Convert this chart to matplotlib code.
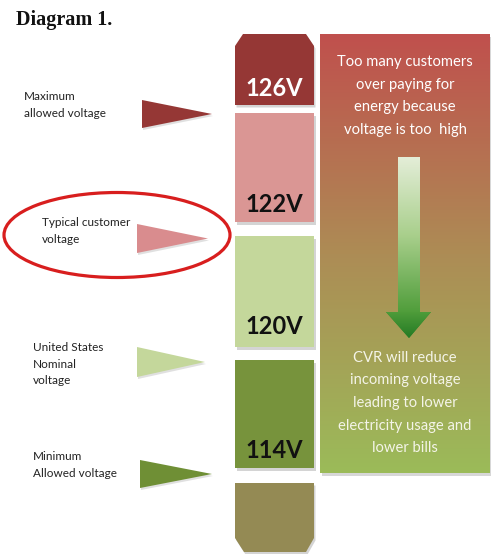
import numpy as np
import matplotlib
matplotlib.use("Agg")
import matplotlib.pyplot as plt
from matplotlib.patches import Polygon, Rectangle, Ellipse
from matplotlib.colors import LinearSegmentedColormap

# ---- data ----
voltages = [126, 122, 120, 114]
block_labels = ["126V", "122V", "120V", "114V"]
block_colors = ["#953735", "#da9694", "#c4d79b", "#77933c"]
block_text_colors = ["white", "#111111", "#111111", "#111111"]
side_labels = ["Maximum\nallowed voltage", "Typical customer\nvoltage",
               "United States\nNominal\nvoltage", "Minimum\nAllowed voltage"]
pointer_colors = ["#953735", "#d98c8e", "#c4d79b", "#6f8f35"]
bottom_block_color = "#948a54"
top_message = "Too many customers\nover paying for\nenergy because\nvoltage is too  high"
bottom_message = "CVR will reduce\nincoming voltage\nleading to lower\nelectricity usage and\nlower bills"
title = "Diagram 1."

W, H = 494, 554
fig = plt.figure(figsize=(W / 100, H / 100), dpi=100)
ax = fig.add_axes([0, 0, 1, 1])
ax.set_xlim(0, W)
ax.set_ylim(H, 0)
ax.axis("off")

FONT = "Lato"

# ---- block column ----
bx0, bx1 = 235, 314
blocks_y = [(34, 105), (113, 222), (236, 347), (360, 468)]
text_y = [88, 204, 327, 450]

def shadow(poly_pts, z=1):
    pts = np.array(poly_pts) + np.array([1.5, 2.5])
    ax.add_patch(Polygon(pts, closed=True, facecolor="#b8b8b8", edgecolor="none",
                         alpha=0.6, zorder=z))

for i, (y0, y1) in enumerate(blocks_y):
    if i == 0:
        pts = [(bx0, y1), (bx0, 46), (243, y0), (306, y0), (bx1, 46), (bx1, y1)]
    else:
        pts = [(bx0, y0), (bx1, y0), (bx1, y1), (bx0, y1)]
    shadow(pts)
    ax.add_patch(Polygon(pts, closed=True, facecolor=block_colors[i],
                         edgecolor="none", zorder=2))
    ax.text((bx0 + bx1) / 2, text_y[i], block_labels[i], ha="center", va="center",
            fontsize=17, fontweight="bold", color=block_text_colors[i],
            family=FONT, zorder=3)

# bottom block
pts = [(bx0, 483), (bx1, 483), (bx1, 538), (306, 552), (244, 552), (bx0, 538)]
shadow(pts)
ax.add_patch(Polygon(pts, closed=True, facecolor=bottom_block_color,
                     edgecolor="none", zorder=2))

# ---- right gradient panel ----
px0, px1, py0, py1 = 320, 489, 34, 473
ax.add_patch(Rectangle((px0 + 1.5, py0 + 2.5), px1 - px0, py1 - py0,
                       facecolor="#bdbdbd", edgecolor="none", alpha=0.6, zorder=1))
panel_cmap = LinearSegmentedColormap.from_list(
    "panel", [(0.0, "#c0504d"), (0.5, "#ad8c55"), (1.0, "#9bbb59")])
grad = np.linspace(0, 1, 256).reshape(-1, 1)
ax.imshow(grad, cmap=panel_cmap, extent=(px0, px1, py1, py0), aspect="auto",
          zorder=2, interpolation="bilinear")

# arrow shaft gradient
shaft_cmap = LinearSegmentedColormap.from_list(
    "shaft", [(0.0, "#e4eed8"), (0.5, "#a9cf8c"), (1.0, "#4f9d3a")])
ax.imshow(grad, cmap=shaft_cmap, extent=(398, 420, 313, 157), aspect="auto",
          zorder=3, interpolation="bilinear")
head_cmap = LinearSegmentedColormap.from_list("head", ["#4e9c3a", "#247a24"])
head = Polygon([(386, 312), (431, 312), (409, 338)], closed=True,
               facecolor="#2f8a2c", edgecolor="none", zorder=3)
ax.add_patch(head)
im = ax.imshow(grad, cmap=head_cmap, extent=(386, 431, 338, 312), aspect="auto",
               zorder=3, interpolation="bilinear")
im.set_clip_path(head)

ax.text(405, 96, top_message, ha="center", va="center", fontsize=10.6,
        color="white", family=FONT, linespacing=1.78, zorder=4)
ax.text(405, 403, bottom_message, ha="center", va="center", fontsize=10.6,
        color="#f4f4e8", family=FONT, linespacing=1.78, zorder=4)

# ---- pointers and side labels ----
pointers = [(142, 212, 100, 128), (137, 208, 224, 253),
            (137, 205, 347, 377), (140, 212, 460, 488)]
label_pos = [(24, 105), (42, 231), (33, 364), (33, 465)]
for i, (x0, x1, y0, y1) in enumerate(pointers):
    ax.add_patch(Polygon([(x0 + 1, y0 + 2), (x1 + 1, (y0 + y1) / 2 + 2), (x0 + 1, y1 + 2)],
                         closed=True, facecolor="#cccccc", edgecolor="none",
                         alpha=0.6, zorder=1))
    ax.add_patch(Polygon([(x0, y0), (x1, (y0 + y1) / 2), (x0, y1)], closed=True,
                         facecolor=pointer_colors[i], edgecolor="none", zorder=2))
    lx, ly = label_pos[i]
    ax.text(lx, ly, side_labels[i], ha="left", va="center", fontsize=8.5,
            color="#222222", family=FONT, linespacing=1.6, zorder=3)

# highlight ellipse
ax.add_patch(Ellipse((117, 235), 226, 85, facecolor="none", edgecolor="#d81e1e",
                     linewidth=2.3, zorder=4))

# title
ax.text(16, 20, title, ha="left", va="center", fontsize=14.5, fontweight="bold",
        family="Liberation Serif", color="#111111")

fig.savefig("out.png", dpi=100)
